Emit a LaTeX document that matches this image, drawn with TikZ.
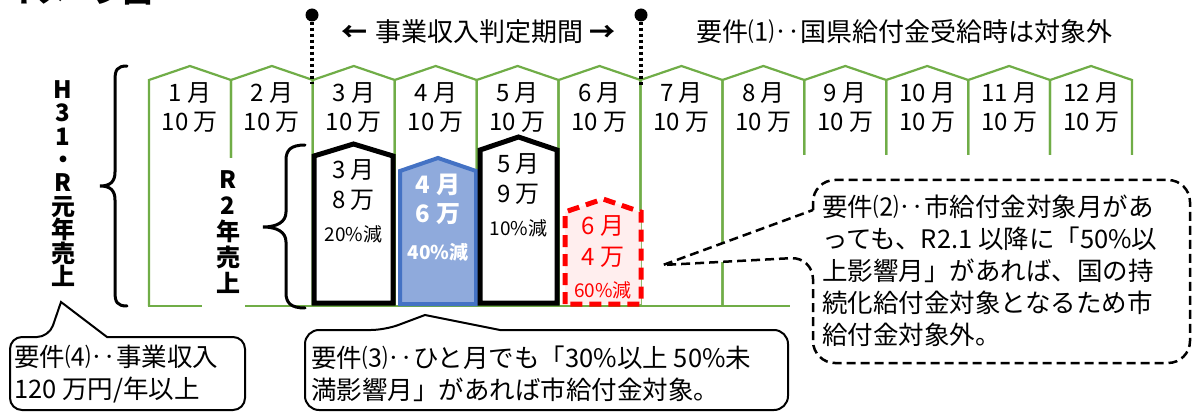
\documentclass[tikz,border=0pt]{standalone}
\usepackage{fontspec}
\setmainfont{Noto Sans CJK JP}
\definecolor{grn}{HTML}{70AD47}
\definecolor{bln}{HTML}{4472C4}
\definecolor{blfill}{HTML}{8FAADC}
\definecolor{rdfill}{RGB}{255,238,238}
\begin{document}
\begin{tikzpicture}[x=1pt,y=-1pt,
  grnline/.style={draw=grn,line width=2.2pt,line join=miter},
  mlab/.style={align=center,inner sep=0pt,font=\fontsize{24}{29.5}\selectfont},
  blab/.style={inner sep=0pt,font=\fontsize{24}{28}\selectfont},
  slab/.style={inner sep=0pt,font=\fontsize{19}{22}\selectfont},
  blkbox/.style={draw=black,line width=5pt,fill=white,line join=miter},
  brace/.style={draw=black,line width=3pt,line cap=round},
  vlab/.style={align=center,inner sep=0pt},
  toptxt/.style={inner sep=0pt,font=\fontsize{26}{30}\selectfont},
  ctxt/.style={align=left,inner sep=0pt,font=\fontsize{25.5}{32}\selectfont},
  callout/.style={draw=black,line width=2pt,fill=white},
  dcallout/.style={draw=black,line width=2.5pt,fill=white,dash pattern=on 9pt off 5pt},
  dot/.style={circle,fill=black,inner sep=0pt,minimum size=13pt},
  dotline/.style={draw=black,line width=3.5pt,dash pattern=on 3pt off 3pt}]
\useasboundingbox (0,0) rectangle (1192,417);
\fill[white] (0,0) rectangle (1192,417);

% cut-off title (as in the reference, only its lower edge shows)
\node[anchor=base west,inner sep=0pt,font=\bfseries\fontsize{29}{30}\selectfont] (title) at (8,3) {イメージ図};

% green month pentagons
\foreach \i in {0,...,11} {
  \pgfmathsetmacro\xl{149+81.917*\i}
  \pgfmathsetmacro\xr{\xl+81.917}
  \pgfmathsetmacro\xm{\xl+40.958}
  \draw[grnline] (\xl,306) -- (\xl,80) -- (\xm,66) -- (\xr,80) -- (\xr,306);
}
\draw[grnline] (148,306) -- (1133,306);
\foreach \i in {1,...,12} {
  \node[mlab] (m\i) at ({149+81.917*(\i-0.5)},107.5) {\i{} 月\\10 万};
}

% masks
\fill[white] (202,158) rectangle (245,312);
\fill[white] (790,155) rectangle (1192,417);

% R2 month boxes
\draw[blkbox] (314,303) -- (314,156) -- (353.5,144) -- (393,156) -- (393,303) -- cycle;
\draw[draw=bln,fill=blfill,line width=4pt,line join=miter] (400,304) -- (400,171) -- (438,158) -- (476,171) -- (476,304) -- cycle;
\draw[blkbox] (480,303) -- (480,150) -- (518.5,137) -- (557,150) -- (557,303) -- cycle;
\draw[draw=red,fill=rdfill,line width=5pt,dash pattern=on 12pt off 7pt] (565,304) -- (565,212) -- (603,199) -- (641,212) -- (641,304) -- cycle;

\node[blab] (b3a) at (353.5,170) {3 月};
\node[blab] (b3b) at (353.5,200) {8 万};
\node[slab] (b3c) at (353.5,234) {20\%減};
\node[blab,text=white,font=\bfseries\fontsize{24}{28}\selectfont] (b4a) at (438,185) {4 月};
\node[blab,text=white,font=\bfseries\fontsize{24}{28}\selectfont] (b4b) at (438,214) {6 万};
\node[slab,text=white,font=\bfseries\fontsize{19}{22}\selectfont] (b4c) at (438,252) {40\%減};
\node[blab] (b5a) at (518.5,164) {5 月};
\node[blab] (b5b) at (518.5,194) {9 万};
\node[slab] (b5c) at (518.5,228) {10\%減};
\node[blab,text=red] (b6a) at (603,226) {6 月};
\node[blab,text=red] (b6b) at (603,257) {4 万};
\node[slab,text=red] (b6c) at (603,290) {60\%減};

% braces
\draw[brace] (127,66) .. controls (117,66) and (115,70) .. (115,80) -- (115,172) .. controls (115,182) and (110,186) .. (100,186) .. controls (110,186) and (115,190) .. (115,200) -- (115,292) .. controls (115,302) and (117,306) .. (127,306);
\draw[brace] (305,145) .. controls (291,145) and (286,150) .. (286,160) -- (286,212) .. controls (286,222) and (277,227) .. (263,227) .. controls (277,227) and (286,232) .. (286,242) -- (286,293) .. controls (286,303) and (291,308) .. (305,308);

% vertical labels
\node[vlab,font=\bfseries\fontsize{24}{23.4}\selectfont] (h31) at (63,183.5) {H\\3\\1\\・\\R\\元\\年\\売\\上};
\node[vlab,font=\bfseries\fontsize{24}{26}\selectfont] (r2) at (228,232.5) {R\\2\\年\\売\\上};

% period markers
\node[dot] (d1) at (312,15) {};
\node[dot] (d2) at (641,15) {};
\coordinate (e1) at (312,84);
\coordinate (e2) at (641,86);
\draw[dotline] (d1) -- (e1);
\draw[dotline] (d2) -- (e2);
\node[toptxt] (per) at (478,32) {{\bfseries ←}\hspace{8pt}事業収入判定期間\hspace{6pt}{\bfseries →}};
\node[toptxt,anchor=west] (req1) at (696,32) {要件⑴‥国県給付金受給時は対象外};

% callouts
\draw[callout] (107,337) [rounded corners=12pt] -- (245,337) -- (245,410) -- (10,410) -- (10,337) -- (49,337) [sharp corners] -- (61,302) -- cycle;
\node[ctxt,anchor=west] (c4) at (14,374) {要件⑷‥事業収入\\120 万円/年以上};

\draw[callout] (500,330) [rounded corners=14pt] -- (788,330) -- (788,410) -- (305,410) -- (305,330) -- (385,330) [sharp corners] -- (425,315) -- cycle;
\node[ctxt,anchor=west] (c3) at (311,374) {要件⑶‥ひと月でも「30\%以上 50\%未\\満影響月」があれば市給付金対象。};

\draw[dcallout] (813,210) [rounded corners=22pt] -- (813,180) -- (1190,180) -- (1190,363) -- (813,363) -- (813,257) [sharp corners] -- (663,265) -- cycle;
\node[ctxt,anchor=west] (c2) at (822,271) {要件⑵‥市給付金対象月があ\\っても、R2.1 以降に「50\%以\\上影響月」があれば、国の持\\続化給付金対象となるため市\\給付金対象外。};
\end{tikzpicture}
\end{document}
